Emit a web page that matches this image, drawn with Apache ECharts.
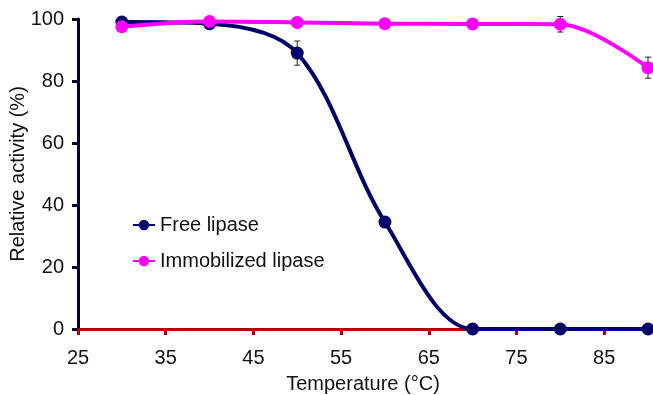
<!DOCTYPE html>
<html><head><meta charset="utf-8">
<script src="https://cdn.jsdelivr.net/npm/echarts@6/dist/echarts.min.js"></script>
<style>html,body{margin:0;padding:0;background:#fff}#c{width:653px;height:395px}</style>
</head><body><div id="c"></div>
<script>
const temps = [30, 40, 50, 60, 70, 80, 90];
const freeLipase = [99, 98.5, 89, 34.5, 0, 0, 0];
const freeErr = [0.5, 1.5, 3.9, 1.5, 0, 0, 0];
const immobilized = [97.5, 99.2, 98.9, 98.5, 98.4, 98.3, 84.3];
const immErr = [0.5, 0.8, 0.5, 0.5, 0.5, 2.5, 3.4];
const xTicks = [25, 35, 45, 55, 65, 75, 85];
const yTicks = [0, 20, 40, 60, 80, 100];

const font = '"Liberation Sans", Arial, sans-serif';
function pairs(v){ return temps.map((t,i)=>[t, v[i]]); }
function errData(v,e){ return temps.map((t,i)=>[t, v[i]-e[i], v[i]+e[i]]).filter((d,i)=>e[i]>0.6); }
function errRender(params, api){
  const x = api.value(0), lo = api.value(1), hi = api.value(2);
  const a = api.coord([x, hi]), b = api.coord([x, lo]);
  const w = 3;
  return {type:'group', children:[
    {type:'line', shape:{x1:a[0],y1:a[1],x2:b[0],y2:b[1]}, style:{stroke:'#222',lineWidth:1}},
    {type:'line', shape:{x1:a[0]-w,y1:a[1],x2:a[0]+w,y2:a[1]}, style:{stroke:'#222',lineWidth:1}},
    {type:'line', shape:{x1:b[0]-w,y1:b[1],x2:b[0]+w,y2:b[1]}, style:{stroke:'#222',lineWidth:1}}
  ]};
}
const chart = echarts.init(document.getElementById('c'));
chart.setOption({
  animation:false,
  grid:{left:78, right:5, top:19, bottom:66, containLabel:false, outerBoundsMode:'none'},
  legend:{
    orient:'vertical', left:127, top:210, itemGap:16, itemWidth:22, itemHeight:13,
    textStyle:{fontFamily:font, fontSize:20, color:'#111'},
    data:['Free lipase','Immobilized lipase']
  },
  xAxis:{
    type:'value', min:25, max:90, interval:10,
    name:'Temperature (°C)', nameLocation:'middle', nameGap:45, nameMoveOverlap:false,
    nameTextStyle:{fontFamily:font, fontSize:20, color:'#111'},
    axisLine:{lineStyle:{color:'#b00000', width:3}},
    axisTick:{show:true, inside:false, length:6, lineStyle:{color:'#b00000', width:3}},
    axisLabel:{fontFamily:font, fontSize:20, color:'#111', margin:19,
      formatter:v=> xTicks.includes(v)? String(v):''},
    splitLine:{show:false}
  },
  yAxis:{
    type:'value', min:0, max:100, interval:20,
    name:'Relative activity (%)', nameLocation:'middle', nameGap:50, nameMoveOverlap:false,
    nameTextStyle:{fontFamily:font, fontSize:20, color:'#111'},
    axisLine:{show:true, lineStyle:{color:'#000033', width:3}},
    axisTick:{show:true, length:6, lineStyle:{color:'#000033', width:3}},
    axisLabel:{fontFamily:font, fontSize:20, color:'#111', margin:14,
      formatter:v=> yTicks.includes(v)? String(v):''},
    splitLine:{show:false}
  },
  series:[
    {type:'custom', renderItem:errRender, data:errData(freeLipase,freeErr), z:1, silent:true},
    {type:'custom', renderItem:errRender, data:errData(immobilized,immErr), z:1, silent:true},
    {name:'Free lipase', type:'line', data:pairs(freeLipase), smooth:0.33,
     symbol:'circle', symbolSize:13, z:3,
     lineStyle:{color:'#00006b', width:4}, itemStyle:{color:'#00006b'}},
    {name:'Immobilized lipase', type:'line', data:pairs(immobilized), smooth:0.33,
     symbol:'circle', symbolSize:13, z:4,
     lineStyle:{color:'#ff00ff', width:4}, itemStyle:{color:'#ff00ff'}}
  ]
});
</script></body></html>
